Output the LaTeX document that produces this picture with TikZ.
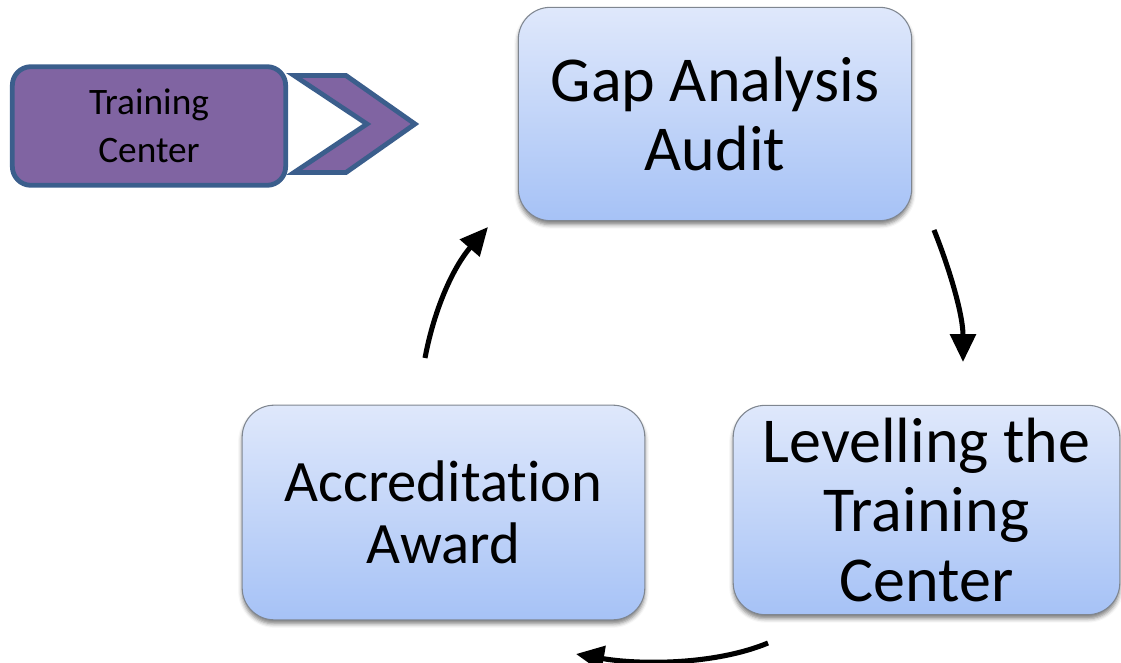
\documentclass[tikz,border=0pt]{standalone}
\usepackage{fontspec}
\setmainfont{Carlito}[Ligatures=NoCommon]
\usetikzlibrary{arrows.meta,shadows.blur}
\definecolor{boxtop}{HTML}{DFE8FB}
\definecolor{boxbot}{HTML}{A6C2F6}
\definecolor{boxline}{HTML}{7F8690}
\definecolor{purplefill}{HTML}{8064A2}
\definecolor{purpleline}{HTML}{3B5E8C}
\tikzset{
  stagebox/.style={draw=boxline, line width=0.8pt, rounded corners=24pt,
    top color=boxtop, bottom color=boxbot, align=center,
    blur shadow={shadow xshift=0pt, shadow yshift=-3pt, shadow blur radius=3pt, shadow opacity=50},
    font=\fontsize{48}{52}\selectfont, inner sep=0pt},
  startbox/.style={draw=purpleline, fill=purplefill, line width=3.6pt, rounded corners=14pt,
    align=center, font=\fontsize{28}{36}\selectfont, inner sep=0pt},
  cyclearrow/.style={line width=3.8pt, -{Triangle[length=21pt, width=19pt]}}
}
\begin{document}
\begin{tikzpicture}[x=0.75pt,y=-0.75pt]
\useasboundingbox (0,0) rectangle (1121,663);

% process stages
\node[stagebox, minimum width=295pt, minimum height=160pt] (gap) at (715,114) {Gap Analysis\\Audit};
\node[stagebox, minimum width=290pt, minimum height=157pt] (level) at (926.5,510) {Levelling the\\Training\\Center};
\node[stagebox, minimum width=302pt, minimum height=161pt, font=\fontsize{44}{47}\selectfont] (award) at (443.5,512.5) {Accreditation\\Award};

% starting point with chevron
\node[startbox, minimum width=205pt, minimum height=89pt] (start) at (149,126) {Training\\Center};
\draw[draw=purpleline, fill=purplefill, line width=3.6pt, line join=miter]
  (294,75.5) -- (346,75.5) -- (415,124) -- (346,172.5) -- (294,172.5) -- (367,124) -- cycle;

% arrow end points
\coordinate (gapout) at (934,230);
\coordinate (levelin) at (963,362);
\coordinate (levelout) at (768,643);
\coordinate (awardin) at (576,654);
\coordinate (awardout) at (425,358);
\coordinate (gapin) at (488,227);

% cycle arrows
\draw[cyclearrow] (gapout) .. controls (950,270) and (963,315) .. (levelin);
\draw[cyclearrow] (levelout) .. controls (715,665) and (640,665) .. (awardin);
\draw[cyclearrow] (awardout) .. controls (435,305) and (455,265) .. (gapin);
\end{tikzpicture}
\end{document}
